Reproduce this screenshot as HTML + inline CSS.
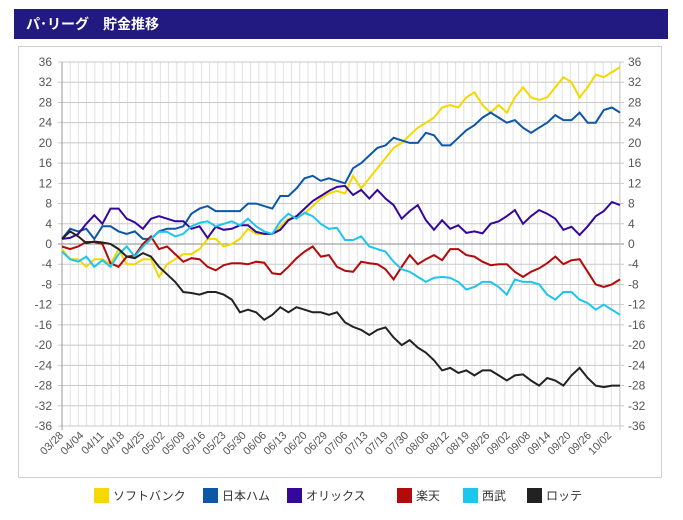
<!DOCTYPE html>
<html><head><meta charset="utf-8">
<style>
body{margin:0;background:#fff;width:683px;height:520px;overflow:hidden;font-family:"Liberation Sans","Noto Sans CJK JP",sans-serif}
#hdr{position:absolute;left:14px;top:9px;width:654px;height:30px;background:#221a80;color:#fff;font-weight:bold;font-size:14px;line-height:30px;box-sizing:border-box;padding-left:12px;font-family:"Liberation Sans","Noto Sans CJK JP",sans-serif}
#box{position:absolute;left:18px;top:46px;width:644px;height:432px;border:1px solid #cfcfcf;box-sizing:border-box}
svg{position:absolute;left:0;top:0}
</style></head><body>
<div id="hdr">パ･リーグ　貯金推移</div>
<div id="box"></div>
<svg id="chart" width="683" height="520"></svg>
<script>
const categories=["03/28","04/04","04/11","04/18","04/25","05/02","05/09","05/16","05/23","05/30","06/06","06/13","06/20","06/29","07/06","07/13","07/19","07/30","08/06","08/12","08/19","08/26","09/02","09/08","09/14","09/20","09/26","10/02"];
const yTicks=[36,32,28,24,20,16,12,8,4,0,-4,-8,-12,-16,-20,-24,-28,-32,-36];
const teamNames=["ソフトバンク","日本ハム","オリックス","楽天","西武","ロッテ"];
const teamColors=["#f5d800","#0e57a6","#34089c","#b40a0a","#1ec5ef","#222222"];
const softbank=[-1,-3,-3,-4.5,-3,-3,-4,-1,-4,-4,-3,-3,-6.5,-4,-3,-2,-2,-1,1,1,-0.5,0,1,3,2,2,2,3.5,5,5.5,6,7.5,9,10,10.5,10,13.5,11,13,15,17,19,20,21.5,23,24,25,27,27.5,27,29,30,27.5,26,27.5,26,29,31,29,28.5,29,31,33,32,29,31,33.5,33,34,35];
const nipponham=[1,3,2.5,3,1,3.5,3.5,2.5,2,2.5,1,1,2.5,3,3,3.5,6,7,7.5,6.5,6.5,6.5,6.5,8,8,7.5,7,9.5,9.5,11,13,13.5,12.5,13,12.5,12,15,16,17.5,19,19.5,21,20.5,20,20,22,21.5,19.5,19.5,21,22.5,23.5,25,26,25,24,24.5,23,22,23,24,25.5,24.5,24.5,26,24,24,26.5,27,26];
const orix=[1,1.2,2,4,5.7,4,7,7,5,4.3,3,5,5.5,5,4.5,4.5,3,3.5,1.2,3.4,2.8,3,3.7,3.7,2.4,2,2,2.8,4.7,5.5,7,8.5,9.5,10.5,11.3,11.5,9.7,10.7,9,10.7,9,7.7,5,6.5,7.7,4.7,2.8,4.7,3,3.7,2.2,2.5,2.1,4,4.5,5.5,6.7,4,5.5,6.7,6,5,2.8,3.4,1.8,3.5,5.5,6.5,8.3,7.7];
const rakuten=[-0.5,-1,-0.5,0.4,0.4,0,-3.8,-4.5,-2.5,-2.3,0,1.5,-1,-0.5,-2,-3.5,-2.8,-3,-4.5,-5.2,-4.2,-3.8,-3.8,-4,-3.5,-3.7,-5.8,-6,-4.5,-2.8,-1.5,-0.5,-2.5,-2.2,-4.5,-5.3,-5.5,-3.5,-3.8,-4,-5,-7,-4.5,-2.2,-4,-3,-2.2,-3.2,-1,-1,-2.2,-2.5,-3.5,-4.2,-4,-4,-5.5,-6.5,-5.5,-4.8,-3.8,-2.5,-4,-3.2,-3,-5.5,-8,-8.5,-8,-7];
const seibu=[-1.5,-3,-3.5,-2.5,-4.5,-3.2,-4.5,-2,-0.5,-2.5,-0.5,1,2.4,2.4,1.5,2,3.5,4.2,4.5,3.5,4,4.5,3.7,5,3.5,2.5,2,4.5,6,5,6.2,5.5,4,3,3.2,0.8,0.8,1.5,-0.5,-1,-1.5,-3.5,-5,-5.5,-6.5,-7.5,-6.7,-6.5,-6.7,-7.5,-9,-8.5,-7.5,-7.5,-8.5,-10,-7,-7.5,-7.5,-8,-10,-11,-9.5,-9.5,-11,-11.7,-13,-12,-13,-14];
const lotte=[1,2.5,1.5,0.2,0.5,0.3,0,-1,-2.5,-2.8,-1.8,-2.5,-4.5,-6,-7.5,-9.5,-9.7,-10,-9.5,-9.5,-10,-11,-13.5,-13,-13.5,-15,-14,-12.5,-13.5,-12.5,-13,-13.5,-13.5,-14,-13.5,-15.5,-16.4,-17,-18,-17,-16.5,-18.5,-20,-19,-20.5,-21.5,-23,-25,-24.5,-25.5,-25,-26,-25,-25,-26,-27,-26,-25.8,-27,-28,-26.5,-27,-28,-26,-24.5,-26.5,-28,-28.3,-28,-28];
const seriesList=[softbank,nipponham,orix,rakuten,seibu,lotte];

const NS="http://www.w3.org/2000/svg";
const svg=document.getElementById('chart');
const X0=62,X1=620,Y0=62,Y1=426,VMAX=36,VMIN=-36;
function yScale(v){return Y0+(VMAX-v)*(Y1-Y0)/(VMAX-VMIN);}
function xScale(i,n){return X0+i*(X1-X0)/(n-1);}
function mk(tag,attrs){const e=document.createElementNS(NS,tag);for(const k in attrs)e.setAttribute(k,attrs[k]);svg.appendChild(e);return e;}

for(let k=0;k<=68;k++){
  const x=X0+k*8.2; if(x>X1+0.5)break;
  const g=mk('line',{x1:x,x2:x,y1:Y0,y2:Y1,stroke:'#e2e2e2','stroke-width':1});
  
  
}
yTicks.forEach(v=>{
  const y=yScale(v);
  const l=mk('line',{x1:X0-4,x2:X1+4,y1:y,y2:y,stroke:v===0?'#8a8a8a':'#c8c8c8','stroke-width':1});
  
  
  const t=mk('text',{x:X0-10,y:y+4,'text-anchor':'end','font-size':12,fill:'#555'});
  t.textContent=v;
  
  
  const t2=mk('text',{x:X1+8,y:y+4,'text-anchor':'start','font-size':12,fill:'#555'});
  t2.textContent=v;
  
  
});
const ax=mk('line',{x1:X0,x2:X0,y1:Y0,y2:Y1+4,stroke:'#999','stroke-width':1});


const ax2=mk('line',{x1:X1,x2:X1,y1:Y0,y2:Y1+4,stroke:'#ccc','stroke-width':1});


categories.forEach((c,k)=>{
  const x=64+k*20.3,y=Y1+10;
  const t=mk('text',{x:x,y:y,'text-anchor':'end','font-size':11,fill:'#555',transform:`rotate(-45 ${x} ${y})`});
  t.textContent=c;
  
  
});
seriesList.forEach((arr,s)=>{
  const pts=arr.map((v,i)=>xScale(i,arr.length).toFixed(1)+','+yScale(v).toFixed(1)).join(' ');
  const p=mk('polyline',{points:pts,fill:'none',stroke:teamColors[s],'stroke-width':2,'stroke-linejoin':'miter'});
  
  
});
const legX=[94,203,287,397,463,527];
teamNames.forEach((n,s)=>{
  const r=mk('rect',{x:legX[s],y:488,width:15,height:15,fill:teamColors[s]});
  
  
  const t=mk('text',{x:legX[s]+19,y:500,'font-size':12,fill:'#333'});
  t.textContent=n;
  
  
});
</script>
</body></html>
